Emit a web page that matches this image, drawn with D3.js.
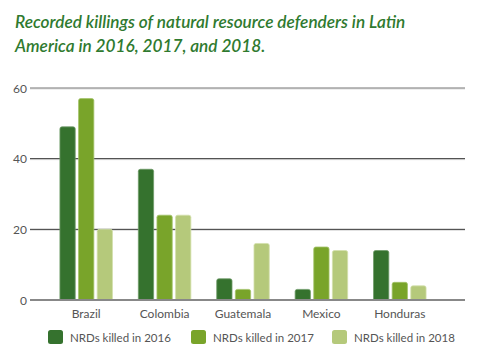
<!DOCTYPE html>
<html><head><meta charset="utf-8">
<script src="https://cdn.jsdelivr.net/npm/d3@7"></script>
<style>body{margin:0;background:#fff}svg{display:block}</style>
</head><body><svg id="c" width="499" height="357"></svg>
<script>
const categories = ["Brazil","Colombia","Guatemala","Mexico","Honduras"];
const seriesNames = ["NRDs killed in 2016","NRDs killed in 2017","NRDs killed in 2018"];
const killed2016 = [49,37,6,3,14];
const killed2017 = [57,24,3,15,5];
const killed2018 = [20,24,16,14,4];
const yTicks = [0,20,40,60];
const colors = ["#35722e","#79a42a","#b5c97b"];
const strokes = ["#6e9a68","#a3c36a","#d3e0ac"];

const series = [killed2016, killed2017, killed2018];
const svg = d3.select("#c");
const font = "Lato, 'Open Sans', sans-serif";

svg.append("text").attr("x",15).attr("y",28)
  .attr("font-family",font).attr("font-style","italic").attr("font-weight",600)
  .attr("font-size",17.2).attr("fill","#2f7a2f")
  .selectAll("tspan").data(["Recorded killings of natural resource defenders in Latin","America in 2016, 2017, and 2018."])
  .join("tspan").attr("x",15).attr("dy",(d,i)=>i?24:0).text(d=>d);

const y = d3.scaleLinear().domain([0,60]).range([300,88]);
const x0 = d3.scaleBand().domain(categories).range([47,439]).paddingInner(0.33).paddingOuter(0.165);
const x1 = d3.scaleBand().domain(d3.range(3)).range([0,x0.bandwidth()]).paddingInner(0.18);

// gridlines
const g = svg.append("g");
yTicks.filter(t=>t>0).forEach(t=>{
  g.append("line").attr("x1",30).attr("x2",465).attr("y1",y(t)+1).attr("y2",y(t)+1).attr("stroke","#ddd");
  g.append("line").attr("x1",30).attr("x2",465).attr("y1",y(t)).attr("y2",y(t)).attr("stroke",t===60?"#777":"#333").attr("stroke-width",t===60?1.2:1);
});

const yAxis = svg.append("g").attr("transform","translate(27,0)")
  .call(d3.axisLeft(y).tickValues(yTicks).tickSize(0).tickPadding(0));
yAxis.select(".domain").remove();
yAxis.selectAll("text").attr("font-family",font).attr("font-size",12).attr("fill","#555").attr("dy","0.35em");

// bars
const r = 2;
function barPath(xp,w,yt,yb){
  const rr = Math.min(r, (yb-yt));
  return `M${xp},${yb}V${yt+rr}Q${xp},${yt} ${xp+rr},${yt}H${xp+w-rr}Q${xp+w},${yt} ${xp+w},${yt+rr}V${yb}Z`;
}
const groups = svg.append("g").selectAll("g").data(categories).join("g")
  .attr("transform",d=>`translate(${x0(d)},0)`);
groups.selectAll("path").data((d,i)=>series.map((s,k)=>({k,v:s[i]}))).join("path")
  .attr("d",d=>barPath(x1(d.k),x1.bandwidth(),y(d.v),y(0)))
  .attr("fill",d=>colors[d.k]).attr("stroke",d=>strokes[d.k]).attr("stroke-width",0.8);

// baseline
svg.append("line").attr("x1",30).attr("x2",465).attr("y1",y(0)).attr("y2",y(0)).attr("stroke","#888").attr("stroke-width",2);

const xAxis = svg.append("g").attr("transform","translate(0,300)")
  .call(d3.axisBottom(x0).tickSize(0).tickPadding(9));
xAxis.select(".domain").remove();
xAxis.selectAll("text").attr("font-family",font).attr("font-size",12).attr("fill","#555");

// legend
const legX = [48,191,332];
const leg = svg.append("g").selectAll("g").data(seriesNames).join("g")
  .attr("transform",(d,i)=>`translate(${legX[i]},330)`);
leg.append("rect").attr("width",15).attr("height",14).attr("rx",2.5).attr("fill",(d,i)=>colors[i]);
leg.append("text").attr("x",22).attr("y",11.5).attr("font-family",font).attr("font-size",11.5).attr("fill","#555").text(d=>d);
</script></body></html>
